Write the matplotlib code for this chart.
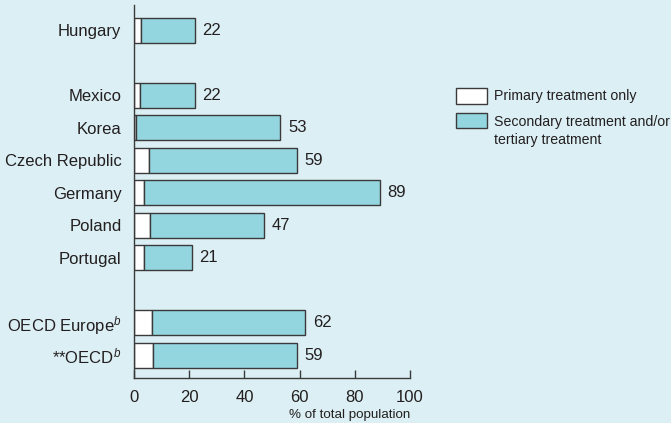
import matplotlib
matplotlib.use('Agg')
import matplotlib.pyplot as plt
from matplotlib.patches import Rectangle
import numpy as np

# data
countries = ['Hungary', 'Mexico', 'Korea', 'Czech Republic', 'Germany',
             'Poland', 'Portugal', 'OECD Europe$^{b}$', '**OECD$^{b}$']
slots = [0, 2, 3, 4, 5, 6, 7, 9, 10]
totals = [22, 22, 53, 59, 89, 47, 21, 62, 59]
primary = [2.5, 2.0, 0.6, 5.5, 3.7, 5.7, 3.5, 6.5, 6.8]
secondary = [t - p for t, p in zip(totals, primary)]
legend_labels = ['Primary treatment only', 'Secondary treatment and/or\ntertiary treatment']

BG = '#dbeff4'
FILL = '#94d6e0'
EDGE = '#3a3a3a'
TXT = '#231f20'

plt.rcParams['font.family'] = ['Liberation Sans', 'DejaVu Sans']
plt.rcParams['mathtext.fontset'] = 'custom'
plt.rcParams['mathtext.it'] = 'Liberation Sans:italic'
plt.rcParams['mathtext.rm'] = 'Liberation Sans'

fig = plt.figure(figsize=(6.71, 4.23), dpi=100, facecolor=BG)
ax = fig.add_axes([0.1997, 0.1064, 0.4113, 0.8816], facecolor=BG)

h = 0.77
ax.barh(slots, primary, height=h, color='white', edgecolor=EDGE, linewidth=1.0)
ax.barh(slots, secondary, left=primary, height=h, color=FILL, edgecolor=EDGE, linewidth=1.0)

for y, t in zip(slots, totals):
    ax.annotate(str(t), (t, y), xytext=(5.5, 0), textcoords='offset points',
                va='center', ha='left', fontsize=12, color=TXT)

ax.set_ylim(10.7, -0.77)
ax.set_xlim(0, 100)
ax.set_yticks(slots)
ax.set_yticklabels(countries, fontsize=12, color=TXT)
ax.set_xticks(np.arange(0, 101, 20))
ax.tick_params(axis='x', direction='in', length=6, width=1, color=EDGE,
               labelsize=12, labelcolor=TXT, pad=9)
ax.tick_params(axis='y', length=0, pad=9)
for s in ['top', 'right']:
    ax.spines[s].set_visible(False)
for s in ['left', 'bottom']:
    ax.spines[s].set_color(EDGE)
    ax.spines[s].set_linewidth(1.0)

ax.set_xlabel('% of total population', fontsize=9.6, color=TXT)
ax.xaxis.set_label_coords(1.0, -0.1)
ax.xaxis.label.set_ha('right')
ax.xaxis.label.set_va('center')

# legend drawn by hand so the handles line up with the first text line
fig.add_artist(Rectangle((0.6796, 0.7541), 0.0462, 0.0378, transform=fig.transFigure,
                         facecolor='white', edgecolor=EDGE, linewidth=1.0))
fig.add_artist(Rectangle((0.6796, 0.6974), 0.0462, 0.0355, transform=fig.transFigure,
                         facecolor=FILL, edgecolor=EDGE, linewidth=1.0))
fig.text(0.7362, 0.773, legend_labels[0], fontsize=10.2, color=TXT, va='center', ha='left')
fig.text(0.7362, 0.729, legend_labels[1], fontsize=10.2, color=TXT, va='top', ha='left',
         linespacing=1.4)

fig.savefig('out.png', dpi=100, facecolor=BG)
